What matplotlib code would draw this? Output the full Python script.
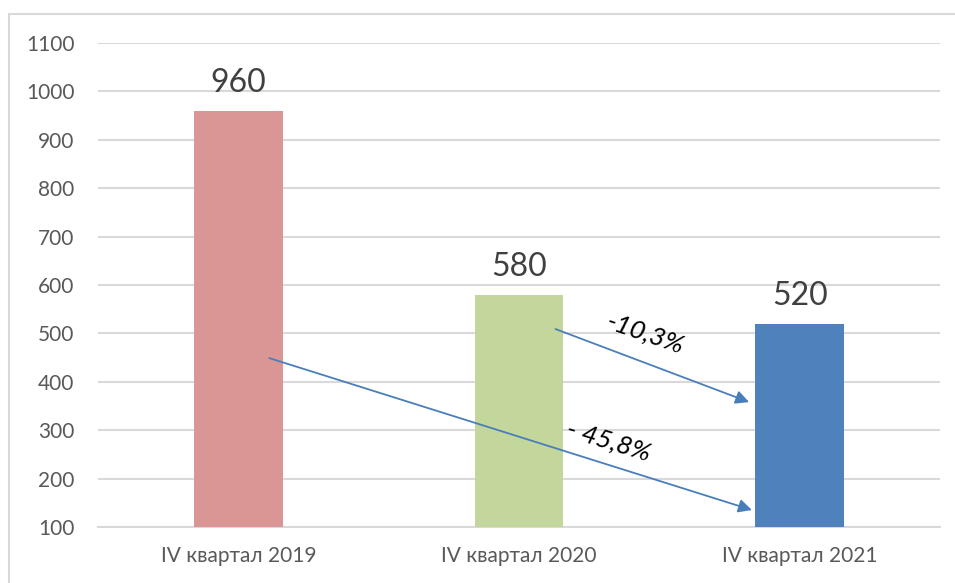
import matplotlib
matplotlib.use("Agg")
import matplotlib.pyplot as plt
from matplotlib.patches import Rectangle

categories = ["IV квартал 2019", "IV квартал 2020", "IV квартал 2021"]
values = [960, 580, 520]
colors = ["#d99694", "#c3d69b", "#4f81bd"]
yticks = [100, 200, 300, 400, 500, 600, 700, 800, 900, 1000, 1100]

# change arrows: (start, end, label, label position, rotation)
changes = [
    ((0.11, 449), (1.83, 135), "- 45,8%", (1.32, 278), -17),
    ((1.13, 509), (1.82, 358), "-10,3%", (1.45, 499), -19),
]

plt.rcParams["font.family"] = ["Lato", "Open Sans", "DejaVu Sans"]

fig = plt.figure(figsize=(9.55, 5.83), dpi=100)
ax = fig.add_axes([0.1026, 0.0961, 0.8817, 0.8301])

x = range(len(categories))
ax.bar(x, values, width=0.317, color=colors, zorder=3, bottom=0)

for xi, v in zip(x, values):
    ax.annotate(str(v), (xi, v), xytext=(0, 20), textcoords="offset points",
                ha="center", va="center", fontsize=23, color="#404040")

for start, end, label, pos, rot in changes:
    ax.annotate("", xy=end, xytext=start,
                arrowprops=dict(arrowstyle="-|>", color="#4a7ebb", lw=1.3,
                                mutation_scale=20, shrinkA=0, shrinkB=0),
                zorder=4)
    ax.text(pos[0], pos[1], label, rotation=rot, rotation_mode="anchor",
            ha="center", va="center", fontsize=19, style="italic",
            color="black", zorder=5)

ax.set_xlim(-0.5, 2.5)
ax.set_ylim(100, 1100)
ax.set_yticks(yticks)
ax.set_xticks(list(x))
ax.set_xticklabels(categories)
ax.grid(axis="y", color="#d9d9d9", lw=1.5, zorder=0)
for s in ["left", "right", "top"]:
    ax.spines[s].set_visible(False)
ax.spines["bottom"].set_color("#d9d9d9")
ax.spines["bottom"].set_linewidth(1.5)
ax.tick_params(axis="y", length=0, pad=17, labelsize=15, labelcolor="#595959")
ax.tick_params(axis="x", length=0, pad=14, labelsize=15, labelcolor="#595959")

# chart frame, cut off at right and bottom like the reference
fig.patches.append(Rectangle((9 / 955, -0.05), 1.1, 1 - 14 / 583 + 0.05,
                             transform=fig.transFigure, fill=False,
                             edgecolor="#d9d9d9", lw=1.5))

plt.savefig("out.png", dpi=100)
